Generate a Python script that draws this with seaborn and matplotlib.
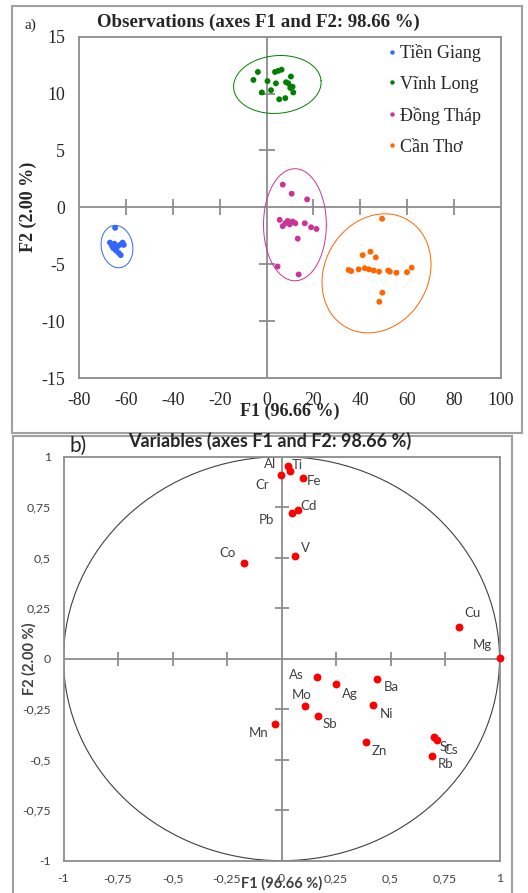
import numpy as np
import pandas as pd
import matplotlib
matplotlib.use("Agg")
import matplotlib.pyplot as plt
import seaborn as sns
from matplotlib.patches import Ellipse, Rectangle

# ---- a) observations ----
provinces = ['Tiền Giang', 'Vĩnh Long', 'Đồng Tháp', 'Cần Thơ']
colors = ['#3366ff', '#008000', '#cc3399', '#ff6600']

tg_f1 = [-64.6, -66.8, -65.9, -64.9, -63.8, -62.6, -61.4, -60.9, -64.2, -63.1, -62.2, -65.3]
tg_f2 = [-1.8, -3.1, -3.4, -3.2, -3.5, -3.3, -3.1, -3.3, -3.8, -4.0, -4.2, -3.6]
vl_f1 = [-3.7, -5.6, 0.4, -2.0, 1.9, 4.0, 3.6, 5.0, 6.4, 10.4, 8.3, 9.3, 10.1, 11.4, 5.4, 8.0, 11.1]
vl_f2 = [11.9, 11.2, 11.1, 10.1, 10.3, 10.9, 11.9, 12.0, 12.1, 11.5, 11.0, 10.9, 10.5, 10.1, 9.5, 9.6, 10.6]
dt_f1 = [6.9, 10.7, 17.3, 5.6, 6.9, 9.0, 9.9, 11.1, 12.3, 16.3, 19.0, 21.3, 13.3, 4.7, 13.7, 8.0]
dt_f2 = [2.0, 1.2, 0.7, -1.1, -1.65, -1.2, -1.5, -1.25, -1.4, -1.4, -1.75, -1.9, -2.75, -5.2, -5.9, -1.4]
ct_f1 = [49.3, 41.0, 44.3, 46.6, 35.0, 36.1, 39.3, 41.9, 43.7, 45.7, 48.0, 51.9, 52.6, 55.4, 59.9, 61.9, 49.4, 48.1]
ct_f2 = [-1.0, -4.2, -3.9, -4.4, -5.5, -5.6, -5.45, -5.35, -5.45, -5.55, -5.65, -5.55, -5.65, -5.75, -5.7, -5.3, -7.5, -8.3]

# confidence ellipses: centre F1, centre F2, semi axes (F1 units), tilt
ell_cx = [-63.8, 4.6, 12.1, 46.9]
ell_cy = [-3.45, 10.8, -1.53, -5.8]
ell_a = [6.7, 18.7, 13.4, 26.4]
ell_b = [9.1, 12.3, 23.9, 22.1]
ell_ang = [10, 5, 0, 60]

a_xticks = [-80, -60, -40, -20, 0, 20, 40, 60, 80, 100]
a_yticks = [-15, -10, -5, 0, 5, 10, 15]

# ---- b) variables ----
elements = ['Al', 'Ti', 'Cr', 'Fe', 'Cd', 'Pb', 'V', 'Co', 'Cu', 'Mg', 'As', 'Ag',
            'Ba', 'Mo', 'Ni', 'Sb', 'Mn', 'Zn', 'Sr', 'Cs', 'Rb']
var_f1 = [0.028, 0.039, -0.001, 0.098, 0.075, 0.048, 0.061, -0.171, 0.816, 1.0, 0.162, 0.252,
          0.438, 0.110, 0.418, 0.167, -0.032, 0.389, 0.699, 0.713, 0.690]
var_f2 = [0.952, 0.929, 0.911, 0.893, 0.734, 0.719, 0.508, 0.472, 0.157, 0.003, -0.091, -0.124,
          -0.099, -0.234, -0.231, -0.282, -0.322, -0.413, -0.388, -0.404, -0.482]
# label offsets in pixels (dx, dy up)
lab_dx = [-17.6, 7, -18.7, 11.3, 10.6, -26, 10.3, -16.3, 13.3, -16.7, -20, 13.7,
          14, -4, 13.4, 12.3, -16, 13, 12, 14, 14]
lab_dy = [2.7, 5.7, -10, -2.7, 4.3, -6.3, 8.4, 10.7, 14, 12.7, 2, -10,
          -8.4, 10.7, -8.3, -8.7, -9, -9.3, -10, -10, -7.6]

b_ticks = [-1, -0.75, -0.5, -0.25, 0, 0.25, 0.5, 0.75, 1]
b_ticklabels = ['-1', '-0,75', '-0,5', '-0,25', '0', '0,25', '0,5', '0,75', '1']

sns.set_style('white')
plt.rcParams['axes.unicode_minus'] = False
serif = ['Liberation Serif', 'DejaVu Serif']
sans = ['Lato', 'DejaVu Sans']
grey = '#8c8c8c'

W, H = 528, 893
fig = plt.figure(figsize=(W / 100, H / 100), dpi=100)


def fbox(l, t, r, b):
    return [l / W, 1 - b / H, (r - l) / W, (b - t) / H]


# outer panel boxes
for (l, t, r, b) in [(12, 6, 522, 433), (13, 436, 512, 900)]:
    fig.patches.append(Rectangle((l / W, 1 - b / H), (r - l) / W, (b - t) / H,
                                 transform=fig.transFigure, fill=False,
                                 edgecolor='#a0a0a0', lw=1.5))

# ================= panel a =================
ax = fig.add_axes(fbox(79, 36.7, 501, 378))
obs = pd.DataFrame({
    'F1': tg_f1 + vl_f1 + dt_f1 + ct_f1,
    'F2': tg_f2 + vl_f2 + dt_f2 + ct_f2,
    'Province': [provinces[0]] * len(tg_f1) + [provinces[1]] * len(vl_f1)
    + [provinces[2]] * len(dt_f1) + [provinces[3]] * len(ct_f1),
})
ax.axhline(0, color=grey, lw=1.3, zorder=0)
ax.axvline(0, color=grey, lw=1.3, zorder=0)
sns.scatterplot(data=obs, x='F1', y='F2', hue='Province', hue_order=provinces,
                palette=colors, s=18, linewidth=0, ax=ax, zorder=3)
ax.set_xlim(-80, 100)
ax.set_ylim(-15, 15)

# ellipses drawn in screen-proportional units
k = (341.3 / 30) / (422 / 180)
t = np.linspace(0, 2 * np.pi, 200)
for i in range(4):
    phi = np.deg2rad(ell_ang[i])
    dx = ell_a[i] * np.cos(t) * np.cos(phi) - ell_b[i] * np.sin(t) * np.sin(phi)
    dy = ell_a[i] * np.cos(t) * np.sin(phi) + ell_b[i] * np.sin(t) * np.cos(phi)
    ax.plot(ell_cx[i] + dx, ell_cy[i] + dy / k, color=colors[i], lw=0.7, zorder=2)

# tick marks on the centre axes
xt = [v for v in a_xticks if v not in (0, -80, 100)]
yt = [v for v in a_yticks if v not in (0, -15, 15)]
ax.plot(xt, [0] * len(xt), ls='none', marker='|', ms=11, mew=1.3, color=grey, zorder=1)
ax.plot([0] * len(yt), yt, ls='none', marker='_', ms=11, mew=1.3, color=grey, zorder=1)

ax.set_xticks(a_xticks)
ax.set_yticks(a_yticks)
ax.tick_params(length=0, labelsize=12.8, pad=10)
for lab in ax.get_xticklabels() + ax.get_yticklabels():
    lab.set_family(serif)
for sp in ax.spines.values():
    sp.set_color(grey)
    sp.set_linewidth(1.3)
ax.set_xlabel('F1 (96.66 %)', family=serif, fontsize=13, fontweight='bold', va='center')
ax.set_ylabel('F2 (2.00 %)', family=serif, fontsize=13, fontweight='bold', va='center')
ax.xaxis.set_label_coords(0.5, -0.097)
ax.yaxis.set_label_coords(-0.12, 0.5)

handles, labels = ax.get_legend_handles_labels()
ax.legend(handles, labels, loc='upper left', bbox_to_anchor=(0.731, 0.979),
          frameon=False, borderpad=0, borderaxespad=0, handlelength=0.5,
          handletextpad=0.2, labelspacing=0.77, markerscale=0.75,
          prop={'family': serif, 'size': 13})

fig.text(258.7 / W, 1 - 22 / H, 'Observations (axes F1 and F2: 98.66 %)', family=serif,
         fontsize=13.6, fontweight='bold', ha='center', va='center')
fig.text(30 / W, 1 - 25 / H, 'a)', family=serif, fontsize=11, ha='center', va='center')

# ================= panel b =================
bx = fig.add_axes(fbox(63.5, 456.7, 499.5, 860.7))
var = pd.DataFrame({'Element': elements, 'F1': var_f1, 'F2': var_f2})
bx.axhline(0, color=grey, lw=1.3, zorder=0)
bx.axvline(0, color=grey, lw=1.3, zorder=0)
bx.add_patch(Ellipse((0, 0), 2, 2, fill=False, edgecolor='#404040', lw=0.8, zorder=1))
sns.scatterplot(data=var, x='F1', y='F2', color='#ff0000', s=32, linewidth=0,
                ax=bx, legend=False, zorder=4, clip_on=False)
bx.set_xlim(-1, 1)
bx.set_ylim(-1, 1)

bt = [v for v in b_ticks if v not in (0, -1, 1)]
bx.plot(bt, [0] * len(bt), ls='none', marker='|', ms=10, mew=1.3, color=grey, zorder=1)
bx.plot([0] * len(bt), bt, ls='none', marker='_', ms=10, mew=1.3, color=grey, zorder=1)

for i, el in enumerate(elements):
    bx.annotate(el, (var_f1[i], var_f2[i]), xytext=(lab_dx[i] * 0.72, lab_dy[i] * 0.72),
                textcoords='offset points', ha='center', va='center',
                family=sans, fontsize=9.5, color='#404040', zorder=5)

bx.set_xticks(b_ticks)
bx.set_xticklabels(b_ticklabels)
bx.set_yticks(b_ticks)
bx.set_yticklabels(b_ticklabels)
bx.tick_params(length=0, labelsize=8.8, labelcolor='#404040', pad=9)
for lab in bx.get_xticklabels() + bx.get_yticklabels():
    lab.set_family(sans)
for sp in bx.spines.values():
    sp.set_color(grey)
    sp.set_linewidth(1.3)
bx.set_xlabel('F1 (96.66 %)', family=sans, fontsize=10.5, fontweight='bold',
              color='#404040', va='center')
bx.set_ylabel('F2 (2.00 %)', family=sans, fontsize=10.5, fontweight='bold',
              color='#404040', va='center')
bx.xaxis.set_label_coords(0.501, -0.055)
bx.yaxis.set_label_coords(-0.079, 0.5)

fig.text(270 / W, 1 - 441 / H, 'Variables (axes F1 and F2: 98.66 %)', family=sans,
         fontsize=13, fontweight='bold', color='#262626', ha='center', va='center')
fig.text(78 / W, 1 - 446 / H, 'b)', family=sans, fontsize=15, color='#262626',
         ha='center', va='center')

fig.savefig('out.png', dpi=100)
